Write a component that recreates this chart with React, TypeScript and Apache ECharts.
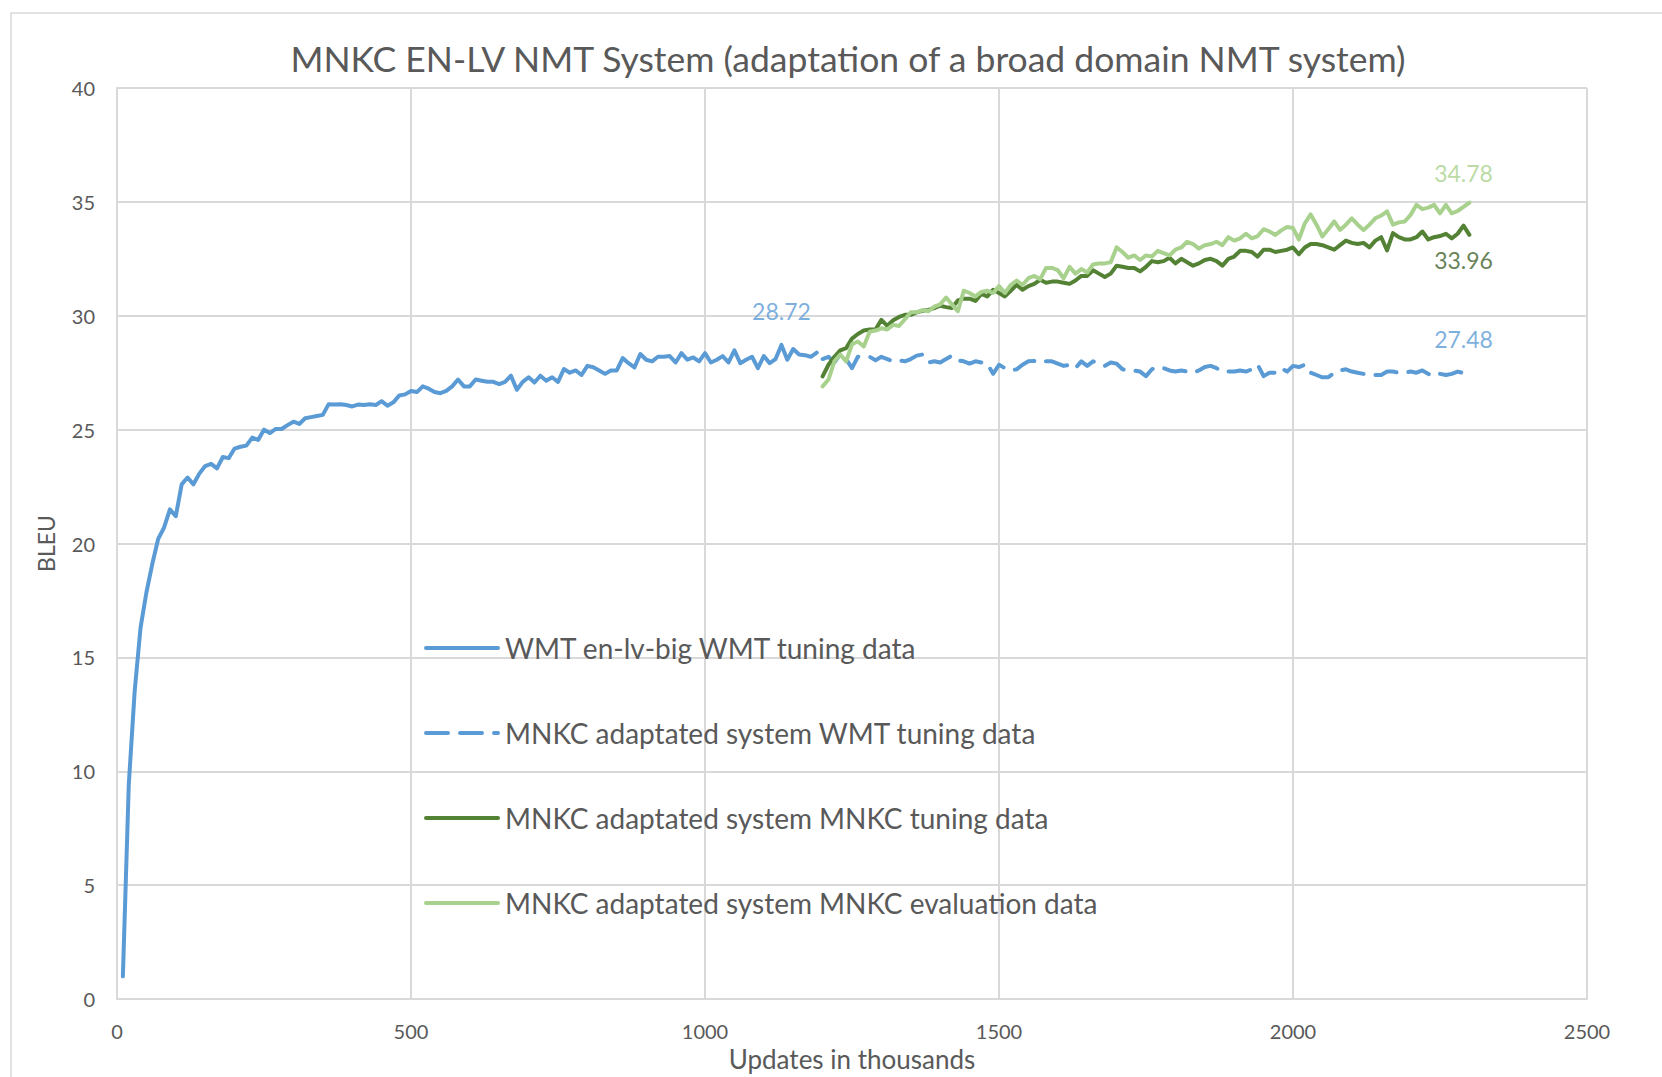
import React, { useEffect, useRef } from "react";
import * as echarts from "echarts";

const TITLE = "MNKC EN-LV NMT System (adaptation of a broad domain NMT system)";
const X_NAME = "Updates in thousands";
const Y_NAME = "BLEU";
const SERIES_NAMES = [
  "WMT en-lv-big WMT tuning data",
  "MNKC adaptated system WMT tuning data",
  "MNKC adaptated system MNKC tuning data",
  "MNKC adaptated system MNKC evaluation data",
];

// checkpoints every 10 thousand updates
const STEP = 10;
const WMT_START = 10;
const ADAPT_START = 1200;

const wmtBig = [
  1.0, 9.4, 13.5, 16.3, 17.85, 19.1, 20.2, 20.7, 21.5, 21.2,
  22.6, 22.9, 22.6, 23.07, 23.4, 23.5, 23.3, 23.8, 23.75, 24.17,
  24.25, 24.3, 24.65, 24.55, 25.0, 24.85, 25.03, 25.03, 25.2, 25.35,
  25.25, 25.5, 25.55, 25.6, 25.65, 26.12, 26.1, 26.12, 26.08, 26.02,
  26.1, 26.08, 26.12, 26.08, 26.25, 26.05, 26.2, 26.5, 26.55, 26.7,
  26.65, 26.9, 26.8, 26.65, 26.6, 26.7, 26.9, 27.2, 26.9, 26.9,
  27.2, 27.15, 27.1, 27.1, 27.0, 27.1, 27.37, 26.75, 27.1, 27.3,
  27.07, 27.37, 27.15, 27.3, 27.1, 27.66, 27.5, 27.6, 27.4, 27.8,
  27.74, 27.6, 27.45, 27.6, 27.6, 28.14, 27.92, 27.73, 28.32, 28.07,
  28.0, 28.2, 28.2, 28.23, 27.95, 28.36, 28.07, 28.17, 28.0, 28.36,
  27.95, 28.07, 28.23, 27.95, 28.48, 27.92, 28.07, 28.2, 27.7, 28.23,
  27.92, 28.1, 28.72, 28.07, 28.54, 28.3, 28.27, 28.2, 28.38,
];

const mnkcWmt = [
  28.1, 28.2, 27.95, 28.3, 28.1, 27.7, 28.2, 28.22, 28.2, 28.05,
  28.2, 28.1, 28.0, 28.05, 28.0, 28.1, 28.25, 28.3, 27.95, 28.0,
  27.95, 28.1, 28.25, 28.05, 28.0, 27.9, 28.0, 27.95, 27.9, 27.45,
  27.85, 27.7, 27.6, 27.65, 27.85, 28.0, 28.02, 27.95, 28.0, 28.0,
  27.9, 27.8, 27.85, 27.7, 28.0, 27.8, 28.0, 27.9, 27.8, 27.95,
  27.9, 27.65, 27.6, 27.6, 27.55, 27.35, 27.65, 27.75, 27.7, 27.6,
  27.55, 27.6, 27.55, 27.5, 27.6, 27.75, 27.8, 27.7, 27.55, 27.55,
  27.55, 27.6, 27.55, 27.65, 27.85, 27.35, 27.5, 27.5, 27.7, 27.55,
  27.8, 27.75, 27.85, 27.5, 27.4, 27.3, 27.3, 27.5, 27.6, 27.65,
  27.55, 27.5, 27.45, 27.4, 27.4, 27.4, 27.55, 27.55, 27.5, 27.5,
  27.55, 27.5, 27.6, 27.45, 27.35, 27.45, 27.4, 27.45, 27.55, 27.48, 27.5,
];

const mnkcTune = [
  27.34, 27.85, 28.2, 28.48, 28.58, 29.0, 29.2, 29.35, 29.4, 29.4,
  29.82, 29.56, 29.8, 29.95, 30.04, 30.04, 30.15, 30.22, 30.26, 30.34,
  30.44, 30.38, 30.34, 30.67, 30.75, 30.75, 30.65, 30.96, 30.85, 31.14,
  31.0, 30.85, 31.1, 31.36, 31.14, 31.3, 31.4, 31.58, 31.45, 31.5,
  31.5, 31.45, 31.4, 31.55, 31.75, 31.75, 32.0, 31.85, 31.7, 31.85,
  32.2, 32.15, 32.1, 32.1, 31.95, 32.15, 32.4, 32.35, 32.4, 32.55,
  32.3, 32.5, 32.35, 32.2, 32.3, 32.45, 32.5, 32.4, 32.2, 32.5,
  32.6, 32.85, 32.85, 32.8, 32.6, 32.9, 32.9, 32.8, 32.85, 32.9,
  33.0, 32.7, 33.0, 33.15, 33.15, 33.1, 33.0, 32.9, 33.1, 33.3,
  33.2, 33.15, 33.2, 33.0, 33.3, 33.45, 32.87, 33.63, 33.45, 33.35,
  33.35, 33.45, 33.7, 33.35, 33.45, 33.5, 33.6, 33.4, 33.6, 33.96, 33.55,
];

const mnkcEval = [
  26.9, 27.2, 28.0, 28.3, 28.0, 28.75, 28.87, 28.65, 29.3, 29.35,
  29.45, 29.4, 29.6, 29.55, 29.85, 30.15, 30.15, 30.25, 30.2, 30.4,
  30.5, 30.8, 30.5, 30.2, 31.1, 31.0, 30.85, 31.05, 31.1, 31.0,
  31.3, 31.0, 31.35, 31.55, 31.35, 31.65, 31.75, 31.6, 32.1, 32.1,
  32.0, 31.65, 32.15, 31.85, 32.05, 31.9, 32.25, 32.3, 32.3, 32.35,
  33.0, 32.8, 32.55, 32.65, 32.45, 32.65, 32.6, 32.85, 32.75, 32.65,
  32.9, 33.0, 33.25, 33.15, 32.95, 33.1, 33.15, 33.25, 33.1, 33.45,
  33.3, 33.4, 33.6, 33.4, 33.5, 33.8, 33.7, 33.55, 33.75, 33.9,
  33.85, 33.35, 34.05, 34.45, 34.0, 33.48, 33.8, 34.14, 33.77, 34.0,
  34.28, 34.0, 33.77, 34.0, 34.28, 34.4, 34.58, 34.0, 34.1, 34.14,
  34.43, 34.87, 34.68, 34.75, 34.87, 34.5, 34.87, 34.5, 34.6, 34.78, 34.97,
];

const X_TICKS = { min: 0, max: 2500, interval: 500 };
const Y_TICKS = { min: 0, max: 40, interval: 5 };

// which checkpoint of which series carries a value label
const LABELLED = [
  { series: 0, x: 1130, position: "top" },
  { series: 1, x: 2290, position: "top" },
  { series: 2, x: 2290, position: "bottom" },
  { series: 3, x: 2290, position: "top" },
];

const BLUE = "#5B9BD5";
const DARK_GREEN = "#548235";
const LIGHT_GREEN = "#A9D18E";
const LABEL_COLORS = [BLUE, BLUE, "#3E6128", LIGHT_GREEN];
const TEXT = "#595959";
const GRID = "#D9D9D9";
const FONT = "Lato, 'Open Sans', sans-serif";

const SERIES_DATA = [
  { values: wmtBig, start: WMT_START },
  { values: mnkcWmt, start: ADAPT_START },
  { values: mnkcTune, start: ADAPT_START },
  { values: mnkcEval, start: ADAPT_START },
];

const toPairs = (values: number[], start: number) =>
  values.map((v, i) => [start + i * STEP, v]);

export default function App() {
  const ref = useRef<HTMLDivElement>(null);

  useEffect(() => {
    if (!ref.current) return;
    const chart = echarts.init(ref.current, undefined, { renderer: "svg" });

    const styles = [
      { color: BLUE, type: "solid" as any },
      { color: BLUE, type: [22, 12] as any },
      { color: DARK_GREEN, type: "solid" as any },
      { color: LIGHT_GREEN, type: "solid" as any },
    ];

    const lineSeries = SERIES_DATA.map((s, i) => ({
      name: SERIES_NAMES[i],
      type: "line",
      data: toPairs(s.values, s.start),
      symbol: "none",
      showSymbol: false,
      smooth: false,
      color: styles[i].color,
      lineStyle: {
        color: styles[i].color,
        width: 4,
        type: styles[i].type,
        cap: "round",
        join: "round",
      },
      emphasis: { disabled: true },
      z: 2 + i,
    }));

    const labelData = LABELLED.map((l, k) => {
      const s = SERIES_DATA[l.series];
      const y = s.values[Math.round((l.x - s.start) / STEP)];
      return {
        value: [l.x, y],
        label: {
          show: true,
          position: l.position,
          distance: 22,
          color: LABEL_COLORS[k],
        },
      };
    });

    chart.setOption({
      animation: false,
      backgroundColor: "#ffffff",
      textStyle: { fontFamily: FONT },
      graphic: [
        {
          type: "rect",
          shape: { x: 11, y: 13, width: 1720, height: 1120 },
          style: { fill: "none", stroke: GRID, lineWidth: 1.5 },
          silent: true,
          z: -10,
        },
        {
          type: "text",
          x: 848,
          y: 58,
          style: {
            text: TITLE,
            fill: TEXT,
            font: `35.5px ${FONT}`,
            textAlign: "center",
            textVerticalAlign: "middle",
          },
        },
      ],
      grid: { left: 117, right: 75, top: 88, bottom: 77, containLabel: false },
      legend: {
        data: SERIES_NAMES,
        orient: "vertical",
        left: 419,
        top: 628,
        padding: 5,
        itemWidth: 72,
        itemHeight: 1,
        itemGap: 55,
        itemStyle: { opacity: 0 },
        lineStyle: { width: 4, cap: "round" },
        textStyle: {
          color: TEXT,
          fontSize: 28,
          fontFamily: FONT,
          lineHeight: 30,
          padding: [0, 0, 0, 2],
        },
        selectedMode: false,
      },
      xAxis: {
        type: "value",
        ...X_TICKS,
        name: X_NAME,
        nameLocation: "middle",
        nameGap: 46,
        nameTextStyle: { color: TEXT, fontSize: 26, fontFamily: FONT },
        axisLine: { show: true, lineStyle: { color: GRID, width: 2 } },
        axisTick: { show: false },
        axisLabel: {
          color: TEXT,
          fontSize: 20,
          margin: 22,
          fontFamily: FONT,
          formatter: (v: number) => String(v),
        },
        splitLine: { show: true, lineStyle: { color: GRID, width: 2 } },
      },
      yAxis: {
        type: "value",
        ...Y_TICKS,
        name: Y_NAME,
        nameLocation: "middle",
        nameRotate: 90,
        nameGap: 60,
        nameTextStyle: { color: TEXT, fontSize: 23, fontFamily: FONT },
        axisLine: { show: true, lineStyle: { color: GRID, width: 2 } },
        axisTick: { show: false },
        axisLabel: {
          color: TEXT,
          fontSize: 20,
          margin: 22,
          fontFamily: FONT,
          formatter: (v: number) => String(v),
        },
        splitLine: { show: true, lineStyle: { color: GRID, width: 2 } },
      },
      series: [
        ...lineSeries,
        {
          name: "value labels",
          type: "scatter",
          data: labelData,
          symbolSize: 1,
          itemStyle: { color: "rgba(0,0,0,0)" },
          label: {
            formatter: (p: any) => p.value[1].toFixed(2),
            fontSize: 23,
            fontFamily: FONT,
          },
          emphasis: { disabled: true },
          silent: true,
          z: 10,
        },
      ],
    });

    return () => chart.dispose();
  }, []);

  return (
    <div
      ref={ref}
      style={{ position: "absolute", left: 0, top: 0, width: 1662, height: 1077 }}
    />
  );
}
